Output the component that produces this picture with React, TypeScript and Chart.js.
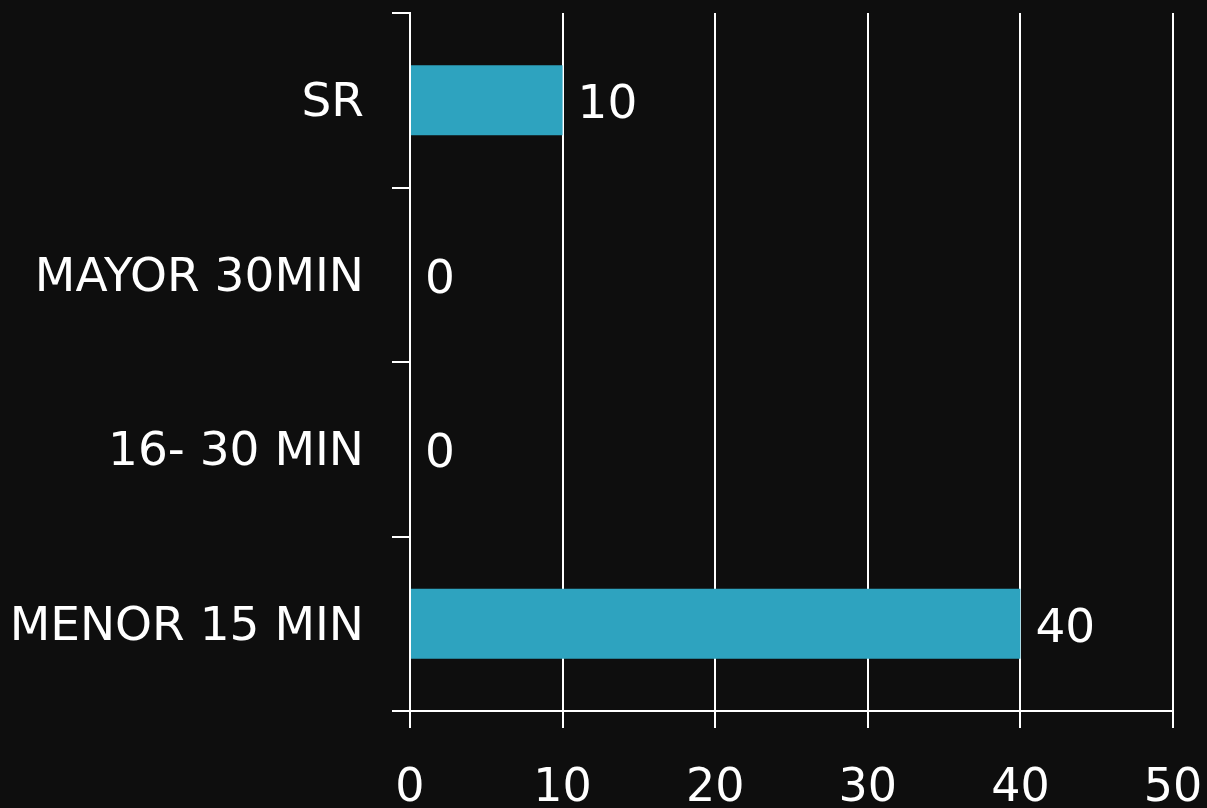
import React, { useEffect, useRef } from "react";
import { Chart, registerables } from "chart.js";

Chart.register(...registerables);

const categories = ["SR", "MAYOR 30MIN", "16- 30 MIN", "MENOR 15 MIN"];
const values = [10, 0, 0, 40];
const xTicks = [0, 10, 20, 30, 40, 50];

const BG = "#0e0e0e";
const BAR = "#2ea3bf";
const FONT = "'DejaVu Sans', sans-serif";

// Writes each bar's value just past its end.
const valueLabels = {
  id: "valueLabels",
  afterDatasetsDraw(chart: Chart) {
    const ctx = chart.ctx;
    const meta = chart.getDatasetMeta(0);
    ctx.save();
    ctx.fillStyle = "#ffffff";
    ctx.font = `47px ${FONT}`;
    ctx.textAlign = "left";
    ctx.textBaseline = "middle";
    meta.data.forEach((el: any, i: number) => {
      const v = chart.data.datasets[0].data[i] as number;
      ctx.fillText(String(v), el.x + 15, el.y + 6);
    });
    ctx.restore();
  },
};

// Paints the dark page behind the chart.
const background = {
  id: "background",
  beforeDraw(chart: Chart) {
    const ctx = chart.ctx;
    ctx.save();
    ctx.fillStyle = BG;
    ctx.fillRect(0, 0, chart.width, chart.height);
    ctx.restore();
  },
};

export default function App() {
  const ref = useRef<HTMLCanvasElement>(null);

  useEffect(() => {
    document.body.style.margin = "0";
    document.body.style.background = BG;
    const chart = new Chart(ref.current!, {
      type: "bar",
      data: {
        labels: categories,
        datasets: [
          {
            data: values,
            backgroundColor: BAR,
            borderWidth: 0,
            barPercentage: 0.4,
            categoryPercentage: 1,
          },
        ],
      },
      options: {
        indexAxis: "y",
        animation: false,
        responsive: false,
        maintainAspectRatio: false,
        layout: { padding: { left: 0, right: 34, top: 13, bottom: 0 } },
        plugins: { legend: { display: false }, tooltip: { enabled: false } },
        scales: {
          x: {
            min: 0,
            max: 50,
            afterBuildTicks: (axis: any) => {
              axis.ticks = xTicks.map((v) => ({ value: v }));
            },
            afterFit: (axis: any) => {
              axis.height = 97;
              axis.paddingLeft = 0;
              axis.paddingRight = 0;
            },
            grid: {
              color: "#ffffff",
              lineWidth: 2,
              tickLength: 17,
              drawOnChartArea: true,
            },
            border: { display: true, color: "#ffffff", width: 2 },
            ticks: {
              color: "#ffffff",
              padding: 38,
              maxRotation: 0,
              font: { family: FONT, size: 46, lineHeight: 1 },
            },
          },
          y: {
            offset: true,
            afterFit: (axis: any) => {
              axis.width = 410;
              axis.paddingTop = 0;
              axis.paddingBottom = 0;
              // category names sit a few pixels below the band centre
              if (!axis.__lowered) {
                axis.__lowered = true;
                const drawLabels = axis.drawLabels;
                axis.drawLabels = function (area: any) {
                  this.ctx.save();
                  this.ctx.translate(0, 4);
                  drawLabels.call(this, area);
                  this.ctx.restore();
                };
              }
            },
            grid: {
              offset: true,
              color: "#ffffff",
              lineWidth: 2,
              tickLength: 18,
              drawOnChartArea: false,
            },
            border: { display: true, color: "#ffffff", width: 2 },
            ticks: {
              color: "#ffffff",
              padding: 28,
              font: { family: FONT, size: 47, lineHeight: 1 },
            },
          },
        },
      },
      plugins: [background, valueLabels],
    });
    return () => chart.destroy();
  }, []);

  return (
    <div style={{ width: 1207, height: 808, background: BG }}>
      <canvas ref={ref} width={1207} height={808} style={{ display: "block" }} />
    </div>
  );
}
